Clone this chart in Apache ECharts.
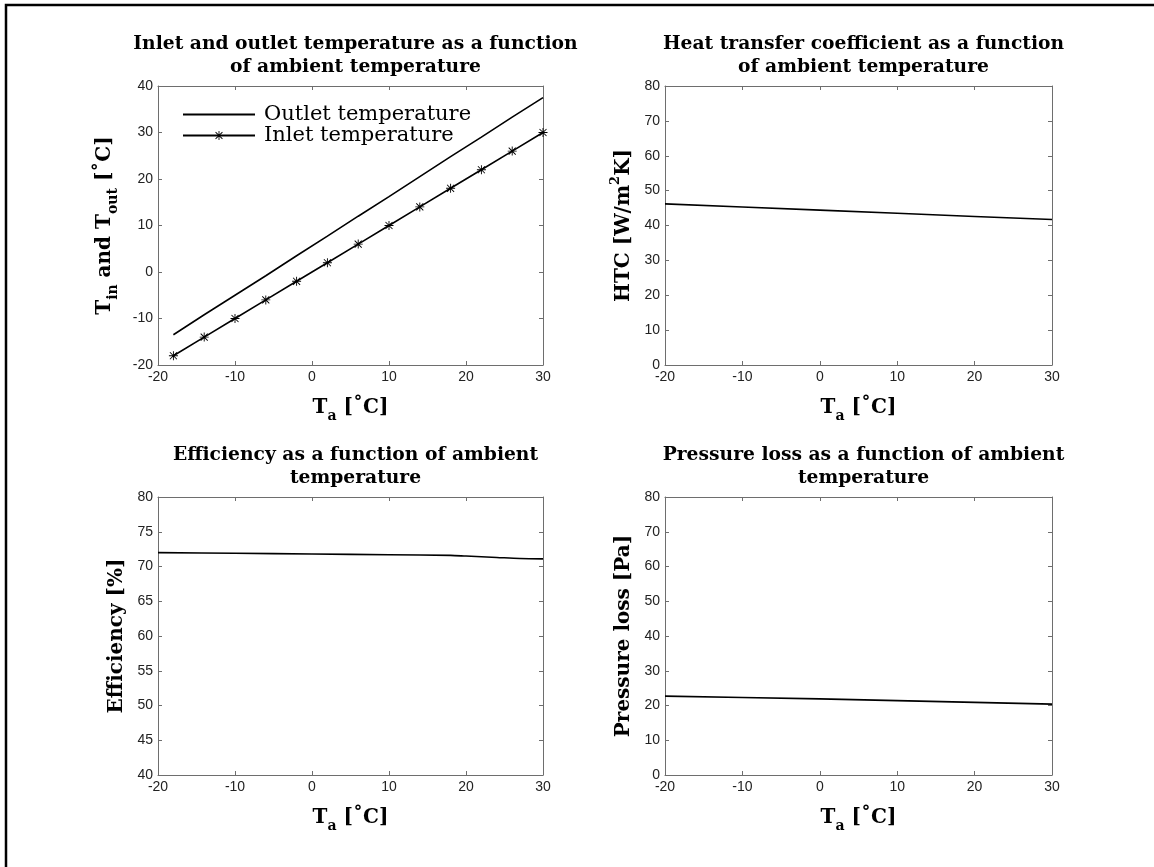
<!DOCTYPE html>
<html>
<head>
<meta charset="utf-8">
<script src="https://cdn.jsdelivr.net/npm/echarts@6/dist/echarts.min.js"></script>
<style>
  html, body { margin: 0; padding: 0; background: #fff; }
  #chart { width: 1154px; height: 867px; }
</style>
</head>
<body>
<div id="chart"></div>
<script>
// ambient temperature samples
var tempIn = [-18, -14, -10, -6, -2, 2, 6, 10, 14, 18, 22, 26, 30]
var inletTemp = [-18, -14, -10, -6, -2, 2, 6, 10, 14, 18, 22, 26, 30]
var outletTemp = [-13.5, -9.2, -5.0, -0.8, 3.5, 7.7, 12.0, 16.2, 20.5, 24.8, 29.0, 33.3, 37.5]

var tempHtc = [-20, -10, 0, 10, 20, 30]
var htc = [46.2, 45.3, 44.4, 43.5, 42.6, 41.7]

var tempEff = [-20, -10, 0, 10, 18, 20, 24, 27, 30]
var efficiency = [72.0, 71.9, 71.8, 71.7, 71.6, 71.5, 71.3, 71.15, 71.1]

var tempDp = [-20, -10, 0, 10, 20, 30]
var pressureLoss = [22.7, 22.3, 21.9, 21.4, 20.9, 20.4]

var titles = [
  'Inlet and outlet temperature as a function\nof ambient temperature',
  'Heat transfer coefficient as a function\nof ambient temperature',
  'Efficiency as a function of ambient\ntemperature',
  'Pressure loss as a function of ambient\ntemperature'
]

var serif = 'DejaVu Serif'
var sans = 'Liberation Sans'
var axisGray = '#6e6e6e'

var grids = [
  { left: 158, top: 86, width: 385, height: 279 },
  { left: 665, top: 86, width: 387, height: 279 },
  { left: 158, top: 497, width: 385, height: 278 },
  { left: 665, top: 497, width: 387, height: 278 }
]

var yRanges = [
  { min: -20, max: 40, interval: 10 },
  { min: 0, max: 80, interval: 10 },
  { min: 40, max: 80, interval: 5 },
  { min: 0, max: 80, interval: 10 }
]

var yNames = [
  '{b|T}{s|in}{b| and T}{s|out}{b| [˚C]}',
  '{b|HTC [W/m}{p|2}{b|K]}',
  '{b|Efficiency [%]}',
  '{b|Pressure loss [Pa]}'
]
var yGaps = [38, 26, 26, 26]

var rich = {
  b: { fontFamily: serif, fontWeight: 'bold', fontSize: 20, lineHeight: 30, color: '#000' },
  s: { fontFamily: serif, fontWeight: 'bold', fontSize: 14, lineHeight: 16, verticalAlign: 'bottom', color: '#000' },
  p: { fontFamily: serif, fontWeight: 'bold', fontSize: 13, lineHeight: 14, verticalAlign: 'top', color: '#000' }
}

// asterisk marker like matlab '*'
var star = 'path://M0 9L20 9L20 11L0 11Z M9 0L11 0L11 20L9 20Z M2.9 1.5L18.5 17.1L17.1 18.5L1.5 2.9Z M17.1 1.5L18.5 2.9L2.9 18.5L1.5 17.1Z'

var tickStyle = { show: true, inside: true, length: 4, lineStyle: { color: axisGray } }
var lineAxis = { show: true, onZero: false, lineStyle: { color: axisGray, width: 1 } }

var xAxis = []
var yAxis = []
var title = []
grids.forEach(function (g, i) {
  title.push({
    text: titles[i],
    left: g.left + g.width / 2,
    top: g.top - 58,
    textAlign: 'center',
    textStyle: { fontFamily: serif, fontWeight: 'bold', fontSize: 18.7, lineHeight: 23, color: '#000' }
  })
  xAxis.push({
    type: 'value',
    gridIndex: i,
    min: -20,
    max: 30,
    interval: 10,
    position: 'bottom',
    name: '{b|T}{s|a}{b| [˚C]}',
    nameLocation: 'middle',
    nameGap: 28,
    nameTextStyle: { rich: rich },
    axisLine: lineAxis,
    axisTick: tickStyle,
    axisLabel: { fontFamily: sans, fontSize: 14, color: '#222', margin: 5 },
    splitLine: { show: false }
  })
  yAxis.push({
    type: 'value',
    gridIndex: i,
    min: yRanges[i].min,
    max: yRanges[i].max,
    interval: yRanges[i].interval,
    position: 'left',
    name: yNames[i],
    nameLocation: 'middle',
    nameGap: yGaps[i],
    nameTextStyle: { rich: rich },
    axisLine: lineAxis,
    axisTick: tickStyle,
    axisLabel: { fontFamily: sans, fontSize: 14, color: '#222', margin: 5 },
    splitLine: { show: false }
  })
})
// mirrored box axes on top and right
grids.forEach(function (g, i) {
  xAxis.push({
    type: 'value', gridIndex: i, min: -20, max: 30, interval: 10, position: 'top',
    axisLine: lineAxis, axisTick: tickStyle,
    axisLabel: { show: false }, splitLine: { show: false }
  })
  yAxis.push({
    type: 'value', gridIndex: i, min: yRanges[i].min, max: yRanges[i].max,
    interval: yRanges[i].interval, position: 'right',
    axisLine: lineAxis, axisTick: tickStyle,
    axisLabel: { show: false }, splitLine: { show: false }
  })
})

function pairs (xs, ys) {
  return xs.map(function (x, k) { return [x, ys[k]] })
}

var lineStyle = { color: '#000', width: 1.6 }

var option = {
  backgroundColor: '#fff',
  animation: false,
  title: title,
  grid: grids,
  xAxis: xAxis,
  yAxis: yAxis,
  legend: {
    left: 177,
    top: 99,
    orient: 'vertical',
    itemWidth: 72,
    itemHeight: 11,
    itemGap: 0,
    textStyle: { fontFamily: serif, fontSize: 21, lineHeight: 21, color: '#000', padding: [0, 0, 0, 4] },
    data: [
      { name: 'Outlet temperature', itemStyle: { color: 'rgba(0,0,0,0)', borderWidth: 0 } },
      { name: 'Inlet temperature' }
    ]
  },
  graphic: [{
    type: 'rect',
    shape: { x: 6, y: 5, width: 1300, height: 1000 },
    style: { fill: 'none', stroke: '#000', lineWidth: 2.5 },
    silent: true
  }],
  series: [
    {
      name: 'Outlet temperature', type: 'line', xAxisIndex: 0, yAxisIndex: 0,
      data: pairs(tempIn, outletTemp), symbol: 'none',
      lineStyle: lineStyle, itemStyle: { color: '#000' }
    },
    {
      name: 'Inlet temperature', type: 'line', xAxisIndex: 0, yAxisIndex: 0,
      data: pairs(tempIn, inletTemp), symbol: star, symbolSize: 9,
      lineStyle: lineStyle, itemStyle: { color: '#000' }
    },
    {
      name: 'HTC', type: 'line', xAxisIndex: 1, yAxisIndex: 1,
      data: pairs(tempHtc, htc), symbol: 'none', lineStyle: lineStyle
    },
    {
      name: 'Efficiency', type: 'line', xAxisIndex: 2, yAxisIndex: 2, smooth: 0.3,
      data: pairs(tempEff, efficiency), symbol: 'none', lineStyle: lineStyle
    },
    {
      name: 'Pressure loss', type: 'line', xAxisIndex: 3, yAxisIndex: 3,
      data: pairs(tempDp, pressureLoss), symbol: 'none', lineStyle: lineStyle
    }
  ]
}

var myChart = echarts.init(document.getElementById('chart'))
myChart.setOption(option, true)
</script>
</body>
</html>
